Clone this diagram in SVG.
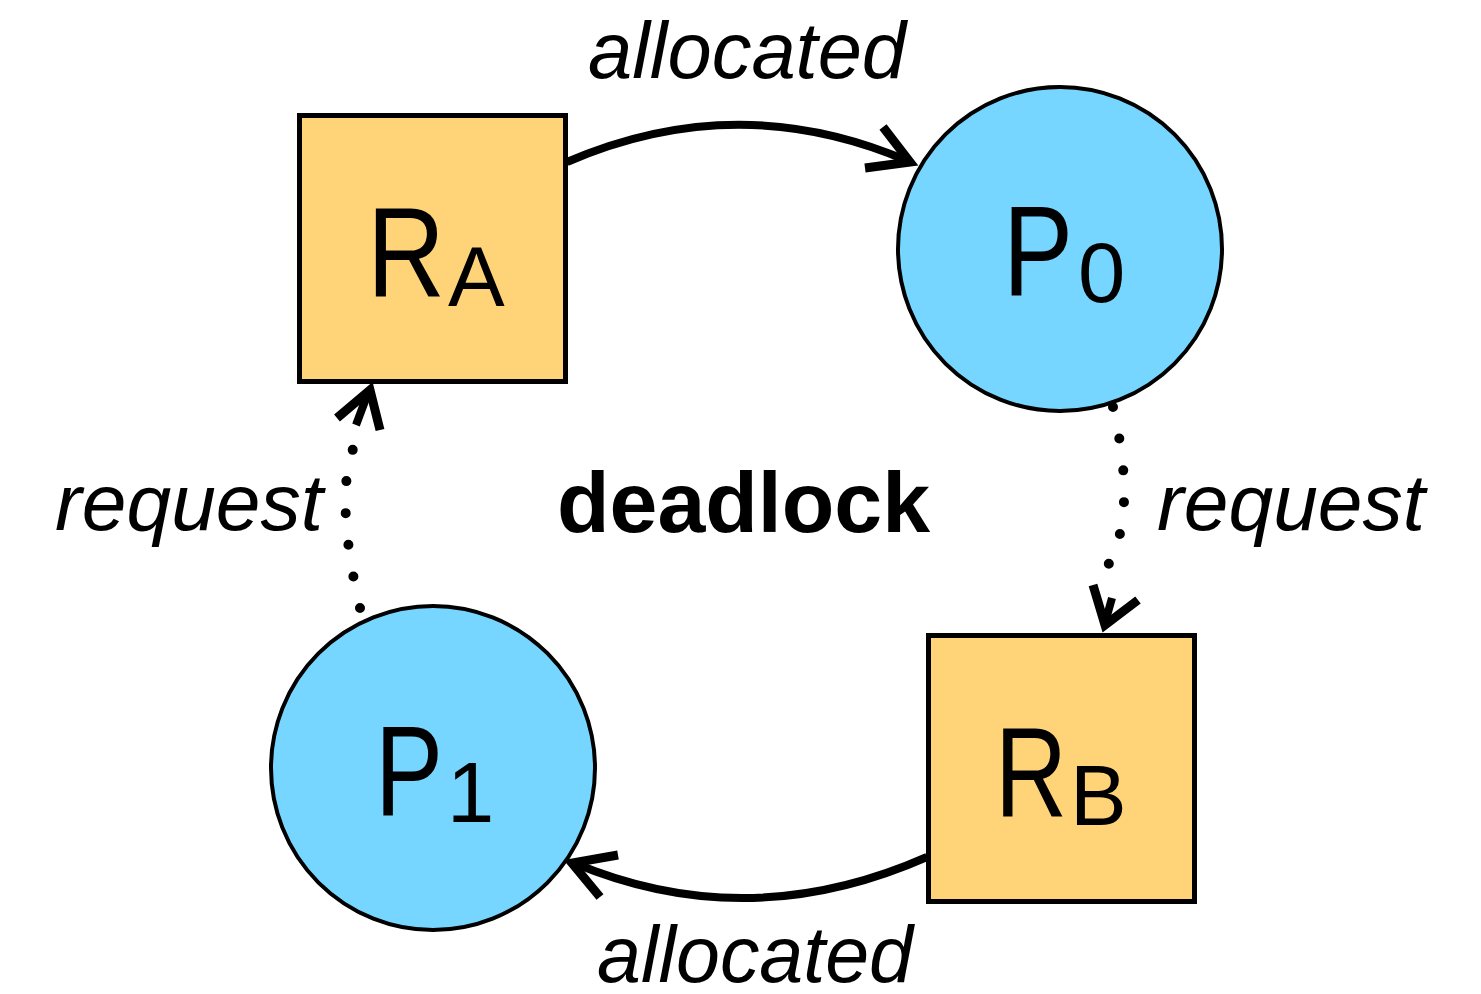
<svg xmlns="http://www.w3.org/2000/svg" width="1481" height="994" viewBox="0 0 1481 994">
<style>
.res{fill:#FFD479;stroke:#000;stroke-width:5}
.proc{fill:#76D6FF;stroke:#000;stroke-width:4}
.big{font-family:"Liberation Sans",Arial,sans-serif;font-size:128px;fill:#000}
.sub{font-family:"Liberation Sans",Arial,sans-serif;font-size:85px;fill:#000}
.lbl{font-family:"Liberation Sans",Arial,sans-serif;font-size:80px;font-style:italic;font-weight:300;fill:#000}
.title{font-family:"Liberation Sans",Arial,sans-serif;font-size:86px;font-weight:bold;fill:#000}
.solid{fill:none;stroke:#000;stroke-width:8}
.dot{fill:none;stroke:#000;stroke-width:10;stroke-linecap:round;stroke-dasharray:0 32}
.head{fill:none;stroke:#000;stroke-width:9;stroke-linejoin:miter}
</style>
<rect width="1481" height="994" fill="#fff"/>
<g id="connectors">
<path class="solid" d="M567,162 Q738,88 908,161"/>
<polyline class="head" points="883,127 910,162 865,168"/>
<path class="solid" d="M927,857 Q748,936 574,863"/>
<polyline class="head" points="618,855 572,863 600,897"/>
<path class="dot" d="M1113,407 Q1138,515 1107,567"/>
<polyline class="head" points="1093,585 1105,625 1138,600"/>
<line class="solid" x1="1112" y1="598" x2="1105" y2="623"/>
<path class="dot" d="M360,608 Q335,500 353,449"/>
<polyline class="head" points="337,418 370,390 380,430"/>
<line class="solid" x1="356" y1="425" x2="368" y2="393"/>
</g>
<g id="RA">
<rect class="res" x="299.5" y="115.5" width="266" height="266"/>
<text class="big" x="367" y="297" textLength="78" lengthAdjust="spacingAndGlyphs">R</text><text class="sub" x="448" y="306">A</text>
</g>
<g id="P0">
<circle class="proc" cx="1060" cy="249" r="162"/>
<text class="big" x="1003" y="295" textLength="70" lengthAdjust="spacingAndGlyphs">P</text><text class="sub" x="1078" y="302">0</text>
</g>
<g id="RB">
<rect class="res" x="928.5" y="635.5" width="266" height="266"/>
<text class="big" x="995" y="817" textLength="72" lengthAdjust="spacingAndGlyphs">R</text><text class="sub" x="1070" y="825">B</text>
</g>
<g id="P1">
<circle class="proc" cx="433" cy="768" r="162"/>
<text class="big" x="375" y="815" textLength="68" lengthAdjust="spacingAndGlyphs">P</text><text class="sub" x="447" y="822">1</text>
</g>
<g id="labels">
<text class="lbl" x="588" y="78" textLength="318" lengthAdjust="spacingAndGlyphs">allocated</text>
<text class="lbl" x="597" y="982" textLength="316" lengthAdjust="spacingAndGlyphs">allocated</text>
<text class="lbl" x="55" y="530" textLength="268" lengthAdjust="spacingAndGlyphs">request</text>
<text class="lbl" x="1157" y="530" textLength="268" lengthAdjust="spacingAndGlyphs">request</text>
<text class="title" x="557" y="532" textLength="373" lengthAdjust="spacingAndGlyphs">deadlock</text>
</g>
</svg>
